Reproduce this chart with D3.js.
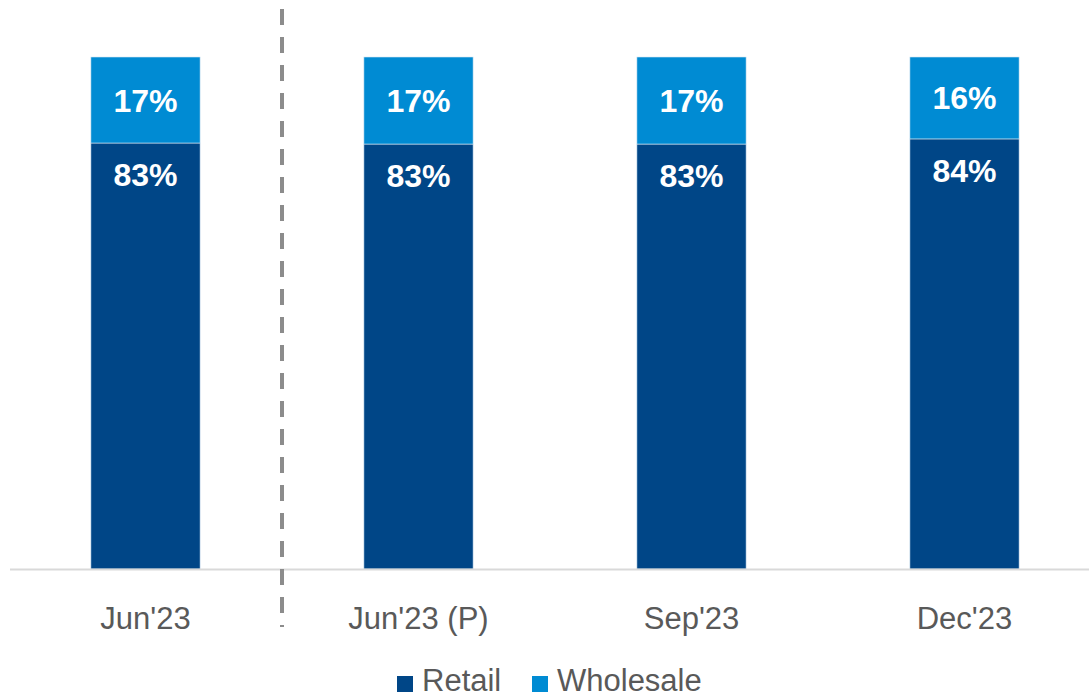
<!DOCTYPE html>
<html>
<head>
<meta charset="utf-8">
<script src="https://cdn.jsdelivr.net/npm/d3@7"></script>
<style>
  body { margin: 0; background: #fff; }
  svg { display: block; font-family: "Liberation Sans", Arial, sans-serif; }
</style>
</head>
<body>
<div class="chart"></div>
<script>
"use strict"

// chart data
const categories = ["Jun'23", "Jun'23 (P)", "Sep'23", "Dec'23"]
const retail = [83.2, 83.0, 83.0, 84.0]
const wholesale = [16.8, 17.0, 17.0, 16.0]
const retailLabels = ["83%", "83%", "83%", "84%"]
const wholesaleLabels = ["17%", "17%", "17%", "16%"]
const seriesNames = ["Retail", "Wholesale"]

const WIDTH = 1089, HEIGHT = 698
const COLORS = { Retail: "#004687", Wholesale: "#008bd3" }

const svg = d3.select(".chart").append("svg")
    .attr("width", WIDTH).attr("height", HEIGHT)

// scales
const xScale = d3.scaleBand().domain(categories)
    .range([9, 1101]).paddingInner(0.6).paddingOuter(0.3)
const yScale = d3.scaleLinear().domain([0, 100]).range([569, 57])

// stacked rows
let rows = categories.map((c, i) => {
    return { cat: c, Retail: retail[i], Wholesale: wholesale[i], rl: retailLabels[i], wl: wholesaleLabels[i] }
})
let stack = d3.stack().keys(seriesNames)(rows)

// bars
let groups = svg.append("g").selectAll("g").data(stack).join("g")
    .attr("fill", (d) => COLORS[d.key])

groups.selectAll("rect").data((d) => d).join("rect")
    .attr("x", (d) => xScale(d.data.cat))
    .attr("width", xScale.bandwidth())
    .attr("y", (d) => yScale(d[1]))
    .attr("height", (d) => yScale(d[0]) - yScale(d[1]))
    .attr("stroke", "#d6e6f2").attr("stroke-width", 0.6)

// value labels
let labels = svg.append("g").attr("fill", "#fff")
    .attr("font-weight", "bold").attr("font-size", 32).attr("text-anchor", "middle")

labels.selectAll(".wl").data(stack[1]).join("text").attr("class", "wl")
    .attr("x", (d) => xScale(d.data.cat) + xScale.bandwidth() / 2)
    .attr("y", (d) => (yScale(d[0]) + yScale(d[1])) / 2 + 11.5)
    .text((d) => d.data.wl)

labels.selectAll(".rl").data(stack[0]).join("text").attr("class", "rl")
    .attr("x", (d) => xScale(d.data.cat) + xScale.bandwidth() / 2)
    .attr("y", (d) => yScale(d[1]) + 43)
    .text((d) => d.data.rl)

// x axis
let xAxis = svg.append("g").attr("transform", "translate(0," + yScale(0) + ")")
    .call(d3.axisBottom(xScale).tickSize(0).tickPadding(38))
xAxis.select(".domain").attr("stroke", "#d9d9d9").attr("stroke-width", 2)
    .attr("d", "M10,0.5H1089")
xAxis.selectAll("text").attr("font-size", 31).attr("fill", "#595959")
    .attr("font-family", "'Liberation Sans', Arial, sans-serif")

// dashed separator between actual and pro-forma
let sepX = (xScale(categories[0]) + xScale.bandwidth() + xScale(categories[1])) / 2
svg.append("line")
    .attr("x1", sepX).attr("x2", sepX).attr("y1", 9).attr("y2", 627)
    .attr("stroke", "#8c8c8c").attr("stroke-width", 4)
    .attr("stroke-dasharray", "16 12")

// legend (kept just inside the bottom edge)
let legend = svg.append("g").attr("font-size", 31).attr("fill", "#595959")
let legendX = [397, 532]
seriesNames.forEach((name, i) => {
    let g = legend.append("g").attr("transform", "translate(" + legendX[i] + ",676)")
    g.append("rect").attr("width", 16).attr("height", 16).attr("fill", COLORS[name])
    g.append("text").attr("x", 25).attr("y", 15).text(name)
})
</script>
</body>
</html>
